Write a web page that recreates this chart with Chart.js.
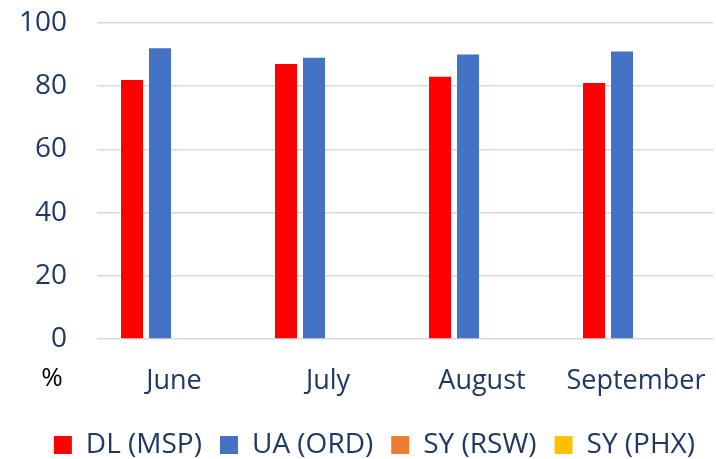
<!DOCTYPE html>
<html>
<head>
<meta charset="utf-8">
<script src="https://cdn.jsdelivr.net/npm/chart.js@4"></script>
<style>
  html, body { margin: 0; padding: 0; background: #fff; }
  #wrap { width: 716px; height: 459px; }
</style>
</head>
<body>
<div id="wrap"><canvas id="chart_ontime"></canvas></div>
<script>
const months = ['June', 'July', 'August', 'September'];
const dlMsp = [82, 87, 83, 81];
const uaOrd = [92, 89, 90, 91];
const syRsw = [0, 0, 0, 0];
const syPhx = [0, 0, 0, 0];
const yTicks = [0, 20, 40, 60, 80, 100];

const navy = '#1f3864';
const fontFamily = '"Open Sans", "Noto Sans", sans-serif';

// draws the little "%" under the y axis
const percentLabel = {
    id: 'percentLabel',
    afterDraw(chart) {
        const { ctx, chartArea } = chart;
        ctx.save();
        ctx.font = '26px ' + fontFamily;
        ctx.fillStyle = '#000';
        ctx.textAlign = 'center';
        ctx.textBaseline = 'middle';
        ctx.fillText('%', 52, chartArea.bottom + 40);
        ctx.restore();
    }
};

const data = {
    labels: months,
    datasets: [
        { label: 'DL (MSP)', data: dlMsp, backgroundColor: '#ff0000' },
        { label: 'UA (ORD)', data: uaOrd, backgroundColor: '#4472c4' },
        { label: 'SY (RSW)', data: syRsw, backgroundColor: '#ed7d31' },
        { label: 'SY (PHX)', data: syPhx, backgroundColor: '#ffc000' },
    ]
};

const options = {
    responsive: true,
    maintainAspectRatio: false,
    animation: false,
    layout: { padding: { top: 23, right: 3, left: 0, bottom: -10 } },
    datasets: {
        bar: { categoryPercentage: 0.727, barPercentage: 0.786 }
    },
    plugins: {
        legend: {
            position: 'bottom',
            align: 'end',
            labels: {
                boxWidth: 18,
                boxHeight: 18,
                padding: 18,
                color: navy,
                font: { family: fontFamily, size: 28 },
            }
        },
        tooltip: { enabled: false },
    },
    scales: {
        y: {
            min: 0,
            max: 100,
            afterBuildTicks: (axis) => { axis.ticks = yTicks.map((v) => ({ value: v })); },
            // fixed width, and drop the extra padding chart.js asks for
            afterFit: (axis) => {
                axis.width = 97;
                axis.paddingTop = 0;
                axis.paddingBottom = 0;
            },
            border: { display: false },
            grid: { color: '#d9d9d9', lineWidth: 1.5, drawTicks: false },
            ticks: {
                color: navy,
                padding: 30,
                font: { family: fontFamily, size: 28 },
            }
        },
        x: {
            afterFit: (axis) => {
                axis.height = 74;
                axis.paddingLeft = 0;
                axis.paddingRight = 0;
            },
            border: { display: false },
            grid: { display: false, drawTicks: false },
            ticks: {
                color: navy,
                padding: 26,
                font: { family: fontFamily, size: 27 },
            }
        },
    }
};

new Chart(document.getElementById('chart_ontime'), {
    type: 'bar',
    data: data,
    options: options,
    plugins: [percentLabel],
});
</script>
</body>
</html>
